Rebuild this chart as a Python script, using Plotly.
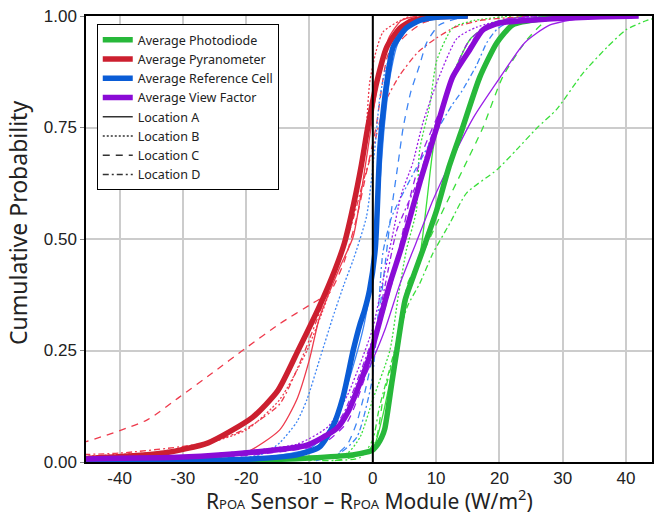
import plotly.graph_objects as go

# ---------------- data (x = R_POA sensor - R_POA module, p = cumulative probability)
# Averages
pd_avg_x = [-50, -20, -10, -3.2, -1, 0, 0.8, 1.4, 1.9, 3, 3.8, 5.1, 6.5, 7.9, 10.1, 12, 14.2, 16.9, 19.6, 22.1, 26.4, 35]
pd_avg_p = [0.002, 0.004, 0.009, 0.016, 0.022, 0.027, 0.04, 0.055, 0.075, 0.177, 0.25, 0.363, 0.42, 0.475, 0.565, 0.66, 0.75, 0.863, 0.94, 0.98, 0.993, 1.0]

py_avg_x = [-50, -41, -33, -26, -19, -15, -11.8, -8.4, -6, -4.5, -3, -1.8, -0.8, 0.6, 2.2, 4.3, 6.3, 10, 15]
py_avg_p = [0.005, 0.011, 0.02, 0.043, 0.10, 0.16, 0.25, 0.35, 0.43, 0.49, 0.58, 0.666, 0.75, 0.85, 0.93, 0.973, 0.99, 0.998, 1.0]

rc_avg_x = [-50, -30, -20, -12, -8.4, -6.3, -4.7, -3.1, -2, -1.3, -0.5, 0.4, 1.1, 1.6, 2.2, 3.2, 5.3, 7.4, 10, 15]
rc_avg_p = [0.001, 0.003, 0.006, 0.016, 0.034, 0.08, 0.146, 0.25, 0.31, 0.34, 0.386, 0.48, 0.70, 0.78, 0.85, 0.93, 0.973, 0.99, 0.997, 1.0]

vf_avg_x = [-50, -30, -19, -10.4, -5.7, -4, -2.5, -0.2, 2.7, 4.5, 7.5, 10.1, 12.6, 15.3, 17.4, 20, 27.5, 35, 42]
vf_avg_p = [0.006, 0.011, 0.022, 0.038, 0.075, 0.11, 0.16, 0.25, 0.40, 0.48, 0.63, 0.75, 0.863, 0.924, 0.969, 0.984, 0.993, 0.998, 1.0]

# Photodiode, locations A-D
pd_a_x = [-15, -3, 0, 1.5, 3, 4.5, 6, 7.4, 8.5, 9.5, 11, 13, 15.5, 19, 24]
pd_a_p = [0.003, 0.015, 0.03, 0.1, 0.2, 0.3, 0.4, 0.46, 0.58, 0.70, 0.8, 0.88, 0.95, 0.985, 1.0]
pd_b_x = [-10, -4, -2, 0, 2.7, 4, 5.3, 6.9, 7.4, 9, 10.1, 12.6, 16, 22]
pd_b_p = [0.003, 0.02, 0.056, 0.14, 0.25, 0.37, 0.475, 0.565, 0.7, 0.8, 0.9, 0.973, 0.99, 1.0]
pd_c_x = [-6, -1, 0.6, 1.6, 3, 4.3, 5.5, 7.4, 10.6, 14.2, 17.4, 20.5, 24.3, 27.5, 32]
pd_c_p = [0.003, 0.02, 0.056, 0.14, 0.22, 0.3, 0.4, 0.453, 0.55, 0.655, 0.75, 0.863, 0.946, 0.99, 1.0]
pd_d_x = [-8, -2, 0, 1, 2.5, 4, 5.5, 7.4, 9.5, 12.2, 14.8, 19.6, 22.7, 26, 29, 33.2, 37, 40, 43.3, 46]
pd_d_p = [0.003, 0.01, 0.05, 0.12, 0.2, 0.28, 0.35, 0.40, 0.468, 0.536, 0.603, 0.655, 0.70, 0.75, 0.79, 0.872, 0.93, 0.969, 0.99, 1.0]

# Pyranometer, locations A-D
py_a_x = [-50, -30, -20, -14.7, -12, -10, -8.4, -5.2, -3.1, -0.8, 0.8, 2.5, 4.5, 7]
py_a_p = [0.004, 0.008, 0.022, 0.072, 0.14, 0.23, 0.325, 0.437, 0.505, 0.70, 0.85, 0.95, 0.99, 1.0]
py_b_x = [-50, -41, -30, -20, -14.7, -10.4, -7.3, -4.9, -2.5, -1.2, -0.5, 0.5, 1.6, 4.3, 6]
py_b_p = [0.01, 0.016, 0.027, 0.072, 0.14, 0.25, 0.363, 0.48, 0.62, 0.72, 0.85, 0.92, 0.964, 0.99, 1.0]
py_c_x = [-50, -46, -35.7, -30.5, -25.3, -20, -14.7, -9.5, -6.8, -4.5, -2.5, -1, 0.5, 2.4, 4, 5.8, 8, 12]
py_c_p = [0.035, 0.043, 0.094, 0.146, 0.2, 0.256, 0.31, 0.356, 0.38, 0.45, 0.55, 0.65, 0.75, 0.913, 0.94, 0.964, 0.985, 1.0]
py_d_x = [-50, -40, -30.5, -25, -20, -14.7, -11, -8, -5, -3, -1.5, 0, 1.9, 4.3, 7.2, 10, 13, 17, 25]
py_d_p = [0.015, 0.02, 0.034, 0.047, 0.075, 0.13, 0.24, 0.35, 0.46, 0.55, 0.63, 0.7, 0.805, 0.868, 0.92, 0.95, 0.975, 0.99, 1.0]

# Reference cell, locations A-D
rc_a_x = [-40, -20, -10, -7, -5, -3, -1.5, 0, 1, 1.8, 2.8, 4, 6, 9, 14]
rc_a_p = [0.002, 0.006, 0.03, 0.07, 0.13, 0.22, 0.30, 0.42, 0.6, 0.75, 0.87, 0.94, 0.98, 0.995, 1.0]
rc_b_x = [-22, -17, -14.7, -12, -10.4, -8.4, -6.3, -4.5, -3.1, -1, 0.3, 1.1, 2, 3, 5, 8, 14]
rc_b_p = [0.004, 0.02, 0.043, 0.09, 0.14, 0.23, 0.325, 0.4, 0.453, 0.55, 0.70, 0.816, 0.88, 0.92, 0.97, 0.99, 1.0]
rc_c_x = [-9, -6, -4, -2.5, -1.2, 0, 1, 2, 3, 4, 4.8, 6, 7.4, 8.5, 10.5, 15]
rc_c_p = [0.003, 0.015, 0.04, 0.09, 0.16, 0.24, 0.33, 0.45, 0.57, 0.67, 0.75, 0.83, 0.89, 0.94, 0.98, 1.0]
rc_d_x = [-9, -5.2, -2.5, -0.2, 0.8, 1.6, 3, 5.3, 9.2, 12.5, 14, 16.4, 18, 19.6, 22, 28]
rc_d_p = [0.005, 0.02, 0.056, 0.177, 0.325, 0.47, 0.55, 0.617, 0.72, 0.8, 0.83, 0.89, 0.94, 0.97, 0.99, 1.0]

# View factor, locations A-D
vf_a_x = [-30, -10, -5, -2, 0, 2, 4.3, 6.8, 9.5, 12.2, 15.8, 20, 24, 28, 35]
vf_a_p = [0.008, 0.035, 0.08, 0.17, 0.23, 0.3, 0.4, 0.49, 0.587, 0.67, 0.77, 0.86, 0.94, 0.98, 1.0]
vf_b_x = [-35, -12, -7, -4, -2, 0, 1.5, 3, 4.5, 6.3, 7.9, 10.1, 13.3, 16.4, 22, 30]
vf_b_p = [0.008, 0.04, 0.08, 0.15, 0.22, 0.3, 0.4, 0.5, 0.6, 0.67, 0.76, 0.85, 0.95, 0.975, 0.995, 1.0]
vf_c_x = [-25, -8, -4, -1, 1, 3, 4.5, 6, 8, 11, 13.7, 16.4, 20, 28]
vf_c_p = [0.008, 0.04, 0.09, 0.2, 0.3, 0.4, 0.5, 0.6, 0.7, 0.8, 0.89, 0.957, 0.99, 1.0]
vf_d_x = [-30, -10, -5, -2, 0.5, 2, 3.8, 7.4, 9, 11, 13, 15, 18, 25]
vf_d_p = [0.008, 0.04, 0.1, 0.2, 0.3, 0.4, 0.52, 0.64, 0.72, 0.8, 0.88, 0.94, 0.98, 1.0]

avg_names = ["Average Photodiode", "Average Pyranometer", "Average Reference Cell", "Average View Factor"]
loc_names = ["Location A", "Location B", "Location C", "Location D"]
x_ticks = [-40, -30, -20, -10, 0, 10, 20, 30, 40]
y_ticks = [0, 0.25, 0.5, 0.75, 1.0]
x_title = ("R<span style='font-size:13px'>POA</span> Sensor – R<span style='font-size:13px'>POA</span>"
           " Module (W/m<sup>2</sup>)")
y_title = "Cumulative Probability"

# ---------------- styles
thick_colors = ["#27B83A", "#CC1F2F", "#0A5CD6", "#8A0BD6"]
thin_colors = ["#3ADF3A", "#EE3A4C", "#3D85F5", "#9B1FE8"]
dashes = ["solid", "2px,2px", "7px,6px", "6px,3px,2px,3px"]

avg_data = [(pd_avg_x, pd_avg_p), (py_avg_x, py_avg_p), (rc_avg_x, rc_avg_p), (vf_avg_x, vf_avg_p)]
loc_data = [
    [(pd_a_x, pd_a_p), (pd_b_x, pd_b_p), (pd_c_x, pd_c_p), (pd_d_x, pd_d_p)],
    [(py_a_x, py_a_p), (py_b_x, py_b_p), (py_c_x, py_c_p), (py_d_x, py_d_p)],
    [(rc_a_x, rc_a_p), (rc_b_x, rc_b_p), (rc_c_x, rc_c_p), (rc_d_x, rc_d_p)],
    [(vf_a_x, vf_a_p), (vf_b_x, vf_b_p), (vf_c_x, vf_c_p), (vf_d_x, vf_d_p)],
]

fig = go.Figure()

# thin location curves
for s in range(4):
    for l in range(4):
        xs, ps = loc_data[s][l]
        fig.add_trace(go.Scatter(x=xs, y=ps, mode="lines", showlegend=False, hoverinfo="skip",
                                 line=dict(color=thin_colors[s], width=1.3, dash=dashes[l], shape="spline", smoothing=0.6)))

# thick averages
for s in range(4):
    xs, ps = avg_data[s]
    fig.add_trace(go.Scatter(x=xs, y=ps, mode="lines", name=avg_names[s],
                             line=dict(color=thick_colors[s], width=5.5, shape="spline", smoothing=0.6)))

# legend-only location styles
for l in range(4):
    fig.add_trace(go.Scatter(x=[None], y=[None], mode="lines", name=loc_names[l],
                             line=dict(color="#333333", width=1.5, dash=dashes[l])))

fig.add_vline(x=0, line=dict(color="black", width=2), layer="above")

fig.update_layout(
    width=659, height=518,
    margin=dict(l=86, r=7, t=16, b=56),
    plot_bgcolor="white", paper_bgcolor="white",
    showlegend=True,
    legend=dict(x=0.019, y=0.982, xanchor="left", yanchor="top",
                bgcolor="white", bordercolor="black", borderwidth=1,
                font=dict(family="Noto Sans", size=12.5, color="#222222"),
                tracegroupgap=0),
    font=dict(family="Liberation Sans", color="#222222"),
    annotations=[
        dict(text=x_title, xref="paper", yref="paper", x=0.5, y=0, yshift=-20,
             xanchor="center", yanchor="top", showarrow=False,
             font=dict(family="Noto Sans", size=21, color="#222222")),
        dict(text=y_title, xref="paper", yref="paper", x=0, y=0.536, xshift=-50,
             xanchor="right", yanchor="middle", textangle=-90, showarrow=False,
             font=dict(family="Noto Sans", size=23, color="#222222")),
    ],
)
fig.update_xaxes(range=[-45.3, 44.1], tickvals=x_ticks, ticktext=[str(v) for v in x_ticks],
                 automargin=False,
                 showgrid=True, gridcolor="#CCCCCC", gridwidth=1.5,
                 zeroline=False, showline=True, linecolor="black", linewidth=1.5, mirror=True,
                 ticks="", tickfont=dict(family="Liberation Sans", size=17, color="#222222"))
fig.update_yaxes(range=[0, 1], tickvals=y_ticks, ticktext=["0.00", "0.25", "0.50", "0.75", "1.00"],
                 automargin=False,
                 showgrid=True, gridcolor="#CCCCCC", gridwidth=1.5,
                 zeroline=False, showline=True, linecolor="black", linewidth=1.5, mirror=True,
                 ticks="outside", ticklen=4, tickcolor="#888888",
                 tickfont=dict(family="Liberation Sans", size=17, color="#222222"))

fig.write_html("out.html", config={"displayModeBar": False},
               post_script="document.body.style.margin='0';")
